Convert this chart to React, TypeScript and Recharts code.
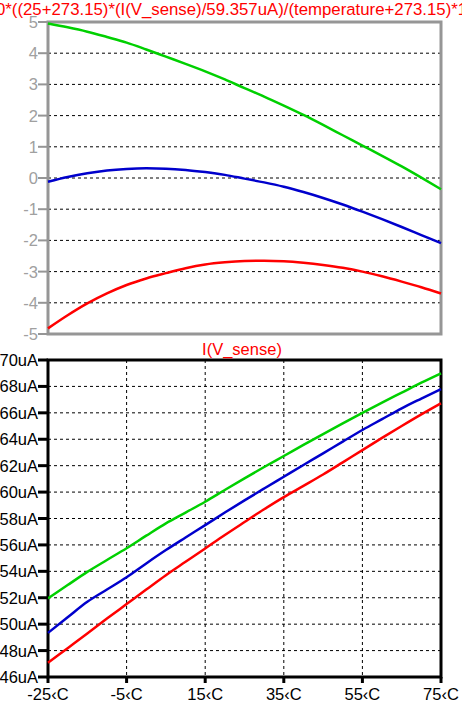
import React from 'react';
import { LineChart, Line, XAxis, YAxis, CartesianGrid, ReferenceArea } from 'recharts';

// temperature sweep (deg C)
const temps = [-25, -20, -15, -10, -5, 0, 5, 10, 15, 20, 25, 30, 35, 40, 45, 50, 55, 60, 65, 70, 75];

// top pane: normalised expression
const topGreen = [4.95, 4.83, 4.69, 4.52, 4.34, 4.12, 3.89, 3.66, 3.42, 3.16, 2.88, 2.61, 2.32, 2.02, 1.7, 1.37, 1.04, 0.71, 0.37, 0.01, -0.36];
const topBlue = [-0.12, 0.03, 0.15, 0.24, 0.29, 0.31, 0.3, 0.26, 0.19, 0.1, -0.02, -0.14, -0.28, -0.45, -0.64, -0.85, -1.08, -1.32, -1.57, -1.83, -2.09];
const topRed = [-4.82, -4.4, -4.02, -3.7, -3.43, -3.22, -3.05, -2.89, -2.77, -2.7, -2.66, -2.65, -2.67, -2.72, -2.79, -2.88, -3.0, -3.15, -3.32, -3.5, -3.7];

// bottom pane: I(V_sense) in uA
const botGreen = [51.95, 52.96, 53.96, 54.86, 55.75, 56.7, 57.63, 58.45, 59.27, 60.16, 61.04, 61.9, 62.73, 63.57, 64.39, 65.2, 66.0, 66.78, 67.53, 68.28, 68.99];
const botBlue = [49.34, 50.52, 51.69, 52.62, 53.55, 54.6, 55.61, 56.56, 57.5, 58.45, 59.37, 60.27, 61.16, 62.05, 62.93, 63.82, 64.7, 65.52, 66.34, 67.08, 67.8];
const botRed = [47.07, 48.18, 49.29, 50.42, 51.52, 52.62, 53.71, 54.72, 55.73, 56.75, 57.73, 58.7, 59.62, 60.47, 61.33, 62.25, 63.18, 64.1, 65.0, 65.88, 66.72];

const xTicks = [-25, -5, 15, 35, 55, 75];
const topTicks = [-5, -4, -3, -2, -1, 0, 1, 2, 3, 4, 5];
const botTicks = [46, 48, 50, 52, 54, 56, 58, 60, 62, 64, 66, 68, 70];

const topData = temps.map((t, i) => ({ t, g: topGreen[i], b: topBlue[i], r: topRed[i] }));
const botData = temps.map((t, i) => ({ t, g: botGreen[i], b: botBlue[i], r: botRed[i] }));

const FONT = '"Liberation Sans", Arial, sans-serif';
const GREEN = '#00d000';
const BLUE = '#0000cc';
const RED = '#ff0000';
const GRAY = '#969696';

// y tick label, right edge just left of the tick mark
const makeYTick = (fill: string, suffix: string) => (props: any) => {
  const { y, payload } = props;
  return (
    <text x={38} y={y} dy={6} textAnchor="end" fill={fill} fontSize={16.5} fontFamily={FONT}>
      {`${payload.value}${suffix}`}
    </text>
  );
};

export default function App() {
  return (
    <div style={{ position: 'fixed', left: 0, top: 0, width: 462, height: 707, background: '#fff', overflow: 'hidden', fontFamily: FONT }}>
      <div style={{ position: 'absolute', left: 0, top: 0 }}>
        <LineChart width={462} height={342} data={topData} margin={{ top: 22, right: 21, bottom: 8, left: 0 }}>
          <CartesianGrid stroke="#000" strokeDasharray="3 3" />
          <XAxis type="number" dataKey="t" domain={[-25, 75]} ticks={xTicks} height={0} tick={false} axisLine={false} tickLine={false} />
          <YAxis
            type="number"
            domain={[-5, 5]}
            ticks={topTicks}
            width={48}
            axisLine={false}
            tickSize={10}
            tickLine={{ stroke: GRAY, strokeWidth: 2 }}
            tick={makeYTick('#a0a0a0', '')}
            interval={0}
          />
          <Line type="monotone" dataKey="g" stroke={GREEN} strokeWidth={2.5} dot={false} isAnimationActive={false} />
          <Line type="monotone" dataKey="b" stroke={BLUE} strokeWidth={2.5} dot={false} isAnimationActive={false} />
          <Line type="monotone" dataKey="r" stroke={RED} strokeWidth={2.5} dot={false} isAnimationActive={false} />
          <ReferenceArea x1={-25} x2={75} y1={-5} y2={5} fill="none" stroke={GRAY} strokeWidth={3} />
        </LineChart>
      </div>
      <div style={{ position: 'absolute', left: 0, top: 340 }}>
        <LineChart width={462} height={367} data={botData} margin={{ top: 20, right: 21, bottom: 0, left: 0 }}>
          <CartesianGrid stroke="#000" strokeDasharray="3 3" />
          <XAxis
            type="number"
            dataKey="t"
            domain={[-25, 75]}
            ticks={xTicks}
            height={30}
            axisLine={false}
            tickSize={6}
            tickMargin={5}
            tickLine={{ stroke: '#000', strokeWidth: 3 }}
            tick={{ fill: '#000', fontSize: 16.5, fontFamily: FONT }}
            tickFormatter={(v: number) => `${v}\u2039C`}
            interval={0}
          />
          <YAxis
            type="number"
            domain={[46, 70]}
            ticks={botTicks}
            width={48}
            axisLine={false}
            tickSize={10}
            tickLine={{ stroke: '#000', strokeWidth: 3 }}
            tick={makeYTick('#000', 'uA')}
            interval={0}
          />
          <Line type="monotone" dataKey="g" stroke={GREEN} strokeWidth={2.5} dot={false} isAnimationActive={false} />
          <Line type="monotone" dataKey="b" stroke={BLUE} strokeWidth={2.5} dot={false} isAnimationActive={false} />
          <Line type="monotone" dataKey="r" stroke={RED} strokeWidth={2.5} dot={false} isAnimationActive={false} />
          <ReferenceArea x1={-25} x2={75} y1={46} y2={70} fill="none" stroke="#000" strokeWidth={3} />
        </LineChart>
      </div>
      <div style={{ position: 'absolute', zIndex: 2, left: -4, top: 0, whiteSpace: 'nowrap', color: RED, fontSize: 16.8, lineHeight: '20px' }}>
        0*((25+273.15)*(I(V_sense)/59.357uA)/(temperature+273.15)*1000
      </div>
      <div style={{ position: 'absolute', zIndex: 2, left: 0, top: 340, width: 462, textAlign: 'center', color: RED, fontSize: 16.5, lineHeight: '19px', paddingLeft: 22, boxSizing: 'border-box' }}>
        I(V_sense)
      </div>
    </div>
  );
}
